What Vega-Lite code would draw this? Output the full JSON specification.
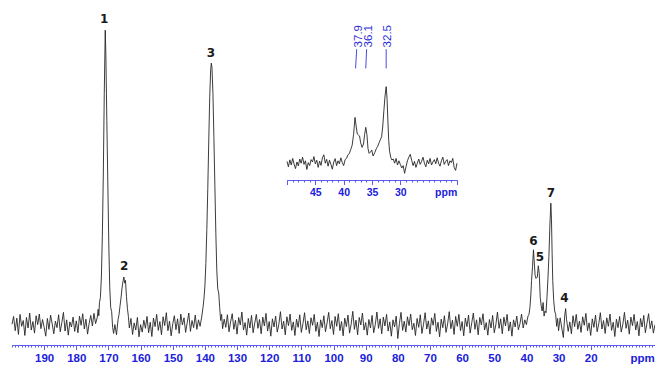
{
  "$schema": "https://vega.github.io/schema/vega-lite/v6.json",
  "width": 643,
  "height": 340,
  "autosize": {"type": "none"},
  "padding": {"left": 12, "top": 5, "right": 0, "bottom": 20},
  "background": "white",
  "config": {"view": {"stroke": null}, "axis": {"grid": false}},
  "datasets": {
    "main": [
      {"p":200,"v":6.1},{"p":199.5,"v":8.4},{"p":199,"v":4.2},{"p":198.5,"v":7.9},{"p":198,"v":3.1},{"p":197.5,"v":9.0},{"p":197,"v":5.5},{"p":196.5,"v":7.2},{"p":196,"v":2.8},{"p":195.5,"v":8.1},{"p":195,"v":5.0},{"p":194.5,"v":9.4},{"p":194,"v":4.4},{"p":193.5,"v":6.9},{"p":193,"v":3.5},{"p":192.5,"v":8.6},{"p":192,"v":6.0},{"p":191.5,"v":9.1},{"p":191,"v":4.8},{"p":190.5,"v":7.5},{"p":190,"v":5.2},{"p":189.5,"v":2.6},{"p":189,"v":7.8},{"p":188.5,"v":4.6},{"p":188,"v":8.8},{"p":187.5,"v":6.2},{"p":187,"v":3.3},{"p":186.5,"v":7.0},{"p":186,"v":5.1},{"p":185.5,"v":8.9},{"p":185,"v":3.9},{"p":184.5,"v":6.6},{"p":184,"v":9.6},{"p":183.5,"v":4.1},{"p":183,"v":7.4},{"p":182.5,"v":2.9},{"p":182,"v":6.8},{"p":181.5,"v":5.3},{"p":181,"v":8.2},{"p":180.5,"v":4.0},{"p":180,"v":7.1},{"p":179.5,"v":3.6},{"p":179,"v":8.5},{"p":178.5,"v":5.8},{"p":178,"v":9.2},{"p":177.5,"v":4.7},{"p":177,"v":7.6},{"p":176.5,"v":3.2},{"p":176,"v":6.4},{"p":175.5,"v":8.7},{"p":175,"v":5.6},{"p":174.5,"v":9.3},{"p":174,"v":6.3},{"p":173.5,"v":8.0},
      {"p":173.2,"v":10.5},{"p":173.0,"v":8.6},{"p":172.8,"v":12.4},{"p":172.5,"v":14.0},{"p":172.2,"v":20},{"p":171.9,"v":32},{"p":171.6,"v":50},{"p":171.3,"v":74},{"p":171.0,"v":92.6},{"p":170.8,"v":85},{"p":170.5,"v":66},{"p":170.2,"v":48},{"p":169.9,"v":30},{"p":169.6,"v":17},{"p":169.3,"v":11},{"p":169.0,"v":9.8},{"p":168.7,"v":5.2},{"p":168.4,"v":3.4},{"p":168.0,"v":6.0},{"p":167.5,"v":3.0},{"p":167.0,"v":7.6},
      {"p":166.7,"v":9.0},{"p":166.4,"v":11.5},{"p":166.1,"v":13.8},{"p":165.8,"v":16.5},{"p":165.5,"v":18.6},{"p":165.2,"v":20.0},{"p":164.95,"v":18.2},{"p":164.7,"v":19.0},{"p":164.4,"v":14.2},{"p":164.1,"v":10.8},{"p":163.8,"v":8.4},{"p":163.5,"v":5.0},{"p":163,"v":7.8},{"p":162.5,"v":3.1},{"p":162,"v":6.5},{"p":161.5,"v":4.4},{"p":161,"v":8.1},{"p":160.5,"v":2.4},{"p":160,"v":6.0},{"p":159.5,"v":3.8},{"p":159,"v":7.3},{"p":158.5,"v":4.9},{"p":158,"v":8.4},{"p":157.5,"v":3.6},{"p":157,"v":6.7},{"p":156.5,"v":2.5},{"p":156,"v":7.9},{"p":155.5,"v":5.4},{"p":155,"v":9.0},{"p":154.5,"v":4.3},{"p":154,"v":6.9},{"p":153.5,"v":3.0},{"p":153,"v":8.3},{"p":152.5,"v":5.7},{"p":152,"v":9.5},{"p":151.5,"v":4.2},{"p":151,"v":7.0},{"p":150.5,"v":2.7},{"p":150,"v":6.2},{"p":149.5,"v":8.6},{"p":149,"v":4.5},{"p":148.5,"v":7.7},{"p":148,"v":3.4},{"p":147.5,"v":9.1},{"p":147,"v":5.9},{"p":146.5,"v":8.0},{"p":146,"v":3.7},{"p":145.5,"v":6.6},{"p":145,"v":9.4},{"p":144.5,"v":4.0},{"p":144,"v":7.2},{"p":143.5,"v":5.1},{"p":143,"v":8.8},{"p":142.5,"v":4.6},{"p":142,"v":7.4},{"p":141.5,"v":5.5},{"p":141,"v":8.2},{"p":140.6,"v":11.0},
      {"p":140.3,"v":13.5},{"p":140.0,"v":17.4},{"p":139.7,"v":24},{"p":139.4,"v":34},{"p":139.1,"v":46},{"p":138.8,"v":60},{"p":138.5,"v":73},{"p":138.2,"v":81},{"p":138.0,"v":82.9},{"p":137.8,"v":81.5},{"p":137.5,"v":74},{"p":137.2,"v":61},{"p":136.9,"v":47},{"p":136.6,"v":33},{"p":136.3,"v":22},{"p":136.0,"v":16.5},{"p":135.7,"v":15.3},{"p":135.4,"v":11.0},{"p":135.1,"v":7.2},{"p":134.8,"v":9.0},{"p":134.5,"v":4.8},{"p":134,"v":7.6},{"p":133.5,"v":5.2},{"p":133,"v":8.9},{"p":132.5,"v":3.9},{"p":132,"v":6.8},
      {"p":131.5,"v":9.2},{"p":131,"v":4.6},{"p":130.5,"v":7.3},{"p":130,"v":3.2},{"p":129.5,"v":8.1},{"p":129,"v":5.9},{"p":128.5,"v":9.7},{"p":128,"v":4.4},{"p":127.5,"v":6.6},{"p":127,"v":2.9},{"p":126.5,"v":7.8},{"p":126,"v":5.0},{"p":125.5,"v":8.7},{"p":125,"v":3.6},{"p":124.5,"v":6.4},{"p":124,"v":9.0},{"p":123.5,"v":4.9},{"p":123,"v":7.5},{"p":122.5,"v":3.3},{"p":122,"v":8.2},{"p":121.5,"v":5.6},{"p":121,"v":9.3},{"p":120.5,"v":4.1},{"p":120,"v":6.9},{"p":119.5,"v":2.6},{"p":119,"v":7.7},{"p":118.5,"v":5.3},{"p":118,"v":8.5},{"p":117.5,"v":3.8},{"p":117,"v":6.1},{"p":116.5,"v":9.8},{"p":116,"v":4.7},{"p":115.5,"v":7.0},{"p":115,"v":3.0},{"p":114.5,"v":8.3},{"p":114,"v":5.7},{"p":113.5,"v":9.1},{"p":113,"v":4.3},{"p":112.5,"v":6.8},{"p":112,"v":2.8},{"p":111.5,"v":7.6},{"p":111,"v":5.2},{"p":110.5,"v":8.9},{"p":110,"v":3.7},{"p":109.5,"v":6.3},{"p":109,"v":9.5},{"p":108.5,"v":4.5},{"p":108,"v":7.1},{"p":107.5,"v":3.4},{"p":107,"v":8.0},{"p":106.5,"v":5.8},{"p":106,"v":9.0},{"p":105.5,"v":4.0},{"p":105,"v":6.7},{"p":104.5,"v":2.5},{"p":104,"v":7.4},{"p":103.5,"v":5.1},{"p":103,"v":8.6},{"p":102.5,"v":3.9},{"p":102,"v":6.5},{"p":101.5,"v":9.6},{"p":101,"v":4.8},{"p":100.5,"v":7.2},{"p":100,"v":3.1},{"p":99.5,"v":8.4},{"p":99,"v":5.5},{"p":98.5,"v":9.2},{"p":98,"v":4.2},{"p":97.5,"v":6.9},{"p":97,"v":2.7},{"p":96.5,"v":7.9},{"p":96,"v":5.4},{"p":95.5,"v":8.8},{"p":95,"v":3.5},{"p":94.5,"v":6.2},{"p":94,"v":9.9},{"p":93.5,"v":4.6},{"p":93,"v":7.3},{"p":92.5,"v":3.0},{"p":92,"v":8.1},{"p":91.5,"v":5.9},{"p":91,"v":9.4},{"p":90.5,"v":4.4},{"p":90,"v":6.6},{"p":89.5,"v":2.9},{"p":89,"v":7.5},{"p":88.5,"v":5.0},{"p":88,"v":8.7},{"p":87.5,"v":3.6},{"p":87,"v":6.0},{"p":86.5,"v":9.7},{"p":86,"v":4.9},{"p":85.5,"v":7.7},{"p":85,"v":3.3},{"p":84.5,"v":8.2},{"p":84,"v":5.6},{"p":83.5,"v":9.0},{"p":83,"v":4.1},{"p":82.5,"v":6.8},{"p":82,"v":2.6},{"p":81.5,"v":7.4},{"p":81,"v":5.3},{"p":80.5,"v":8.5},{"p":80,"v":1.9},{"p":79.5,"v":6.3},{"p":79,"v":9.6},{"p":78.5,"v":4.3},{"p":78,"v":7.0},{"p":77.5,"v":3.8},{"p":77,"v":8.3},{"p":76.5,"v":5.7},{"p":76,"v":9.1},{"p":75.5,"v":4.5},{"p":75,"v":6.4},{"p":74.5,"v":2.8},{"p":74,"v":7.8},{"p":73.5,"v":5.2},{"p":73,"v":8.9},{"p":72.5,"v":3.4},{"p":72,"v":6.1},{"p":71.5,"v":9.5},{"p":71,"v":4.7},{"p":70.5,"v":7.1},{"p":70,"v":3.2},{"p":69.5,"v":8.0},{"p":69,"v":5.8},{"p":68.5,"v":9.3},{"p":68,"v":4.0},{"p":67.5,"v":6.7},{"p":67,"v":2.4},{"p":66.5,"v":7.6},{"p":66,"v":5.1},{"p":65.5,"v":8.6},{"p":65,"v":3.7},{"p":64.5,"v":6.2},{"p":64,"v":9.8},{"p":63.5,"v":4.8},{"p":63,"v":7.3},{"p":62.5,"v":3.1},{"p":62,"v":8.4},{"p":61.5,"v":5.5},{"p":61,"v":9.0},{"p":60.5,"v":4.2},{"p":60,"v":6.9},{"p":59.5,"v":2.7},{"p":59,"v":7.9},{"p":58.5,"v":5.4},{"p":58,"v":8.8},{"p":57.5,"v":3.5},{"p":57,"v":6.5},{"p":56.5,"v":9.4},{"p":56,"v":4.6},{"p":55.5,"v":7.4},{"p":55,"v":3.0},{"p":54.5,"v":8.1},{"p":54,"v":5.9},{"p":53.5,"v":9.2},{"p":53,"v":4.4},{"p":52.5,"v":6.6},{"p":52,"v":2.9},{"p":51.5,"v":7.5},{"p":51,"v":5.0},{"p":50.5,"v":8.7},{"p":50,"v":3.6},{"p":49.5,"v":6.0},{"p":49,"v":9.7},{"p":48.5,"v":4.9},{"p":48,"v":7.7},{"p":47.5,"v":3.3},{"p":47,"v":8.2},{"p":46.5,"v":5.6},{"p":46,"v":9.0},{"p":45.5,"v":4.1},{"p":45,"v":6.8},{"p":44.5,"v":2.6},{"p":44,"v":7.4},{"p":43.5,"v":5.3},{"p":43,"v":8.5},{"p":42.5,"v":4.5},{"p":42,"v":6.3},{"p":41.5,"v":9.1},{"p":41,"v":5.0},{"p":40.5,"v":7.4},{"p":40,"v":6.0},{"p":39.5,"v":8.5},{"p":39.2,"v":9.0},
      {"p":38.9,"v":11},{"p":38.6,"v":15},{"p":38.4,"v":18.9},{"p":38.1,"v":23},{"p":37.8,"v":28.0},{"p":37.6,"v":25},{"p":37.3,"v":20.5},{"p":37.0,"v":19.6},{"p":36.6,"v":20},{"p":36.3,"v":23.3},{"p":36.0,"v":21.0},{"p":35.7,"v":14},{"p":35.4,"v":11.5},{"p":35.1,"v":10},{"p":34.8,"v":12.5},{"p":34.5,"v":8.5},{"p":34.2,"v":10},{"p":33.9,"v":9.5},{"p":33.6,"v":14},{"p":33.3,"v":19.5},{"p":33.0,"v":26},{"p":32.7,"v":35},{"p":32.4,"v":41.7},{"p":32.2,"v":37},{"p":32.0,"v":27},{"p":31.8,"v":18.9},{"p":31.5,"v":13},{"p":31.2,"v":10},{"p":30.9,"v":9},{"p":30.6,"v":5.5},{"p":30.3,"v":7.8},{"p":30.0,"v":4.2},{"p":29.5,"v":8.0},{"p":29.0,"v":5.0},{"p":28.5,"v":2.2},{"p":28.1,"v":8.5},{"p":27.8,"v":10.7},{"p":27.5,"v":7.4},{"p":27,"v":4.0},{"p":26.5,"v":6.8},{"p":26,"v":3.3},{"p":25.5,"v":8.6},{"p":25,"v":5.4},{"p":24.5,"v":9.0},{"p":24,"v":4.6},{"p":23.5,"v":7.0},{"p":23,"v":3.7},{"p":22.5,"v":8.3},{"p":22,"v":5.8},{"p":21.5,"v":9.3},{"p":21,"v":4.2},{"p":20.5,"v":6.5},{"p":20,"v":2.8},{"p":19.5,"v":7.7},{"p":19,"v":5.2},{"p":18.5,"v":8.8},{"p":18,"v":3.9},{"p":17.5,"v":6.2},{"p":17,"v":9.5},{"p":16.5,"v":4.7},{"p":16,"v":7.2},{"p":15.5,"v":3.4},{"p":15,"v":8.0},{"p":14.5,"v":5.5},{"p":14,"v":9.1},{"p":13.5,"v":4.3},{"p":13,"v":6.7},{"p":12.5,"v":2.5},{"p":12,"v":7.6},{"p":11.5,"v":5.1},{"p":11,"v":8.4},{"p":10.5,"v":3.8},{"p":10,"v":6.1},{"p":9.5,"v":9.6},{"p":9,"v":4.9},{"p":8.5,"v":7.3},{"p":8,"v":3.2},{"p":7.5,"v":8.2},{"p":7,"v":5.7},{"p":6.5,"v":9.0},{"p":6,"v":4.4},{"p":5.5,"v":6.9},{"p":5,"v":2.7},{"p":4.5,"v":7.8},{"p":4,"v":5.3},{"p":3.5,"v":8.7},{"p":3,"v":3.6},{"p":2.5,"v":6.4},{"p":2,"v":9.2},{"p":1.5,"v":4.8},{"p":1,"v":7.1},{"p":0.5,"v":3.5},{"p":0,"v":6.0}
    ],
    "inset": [
      {"p":50,"v":15.5},{"p":49.75,"v":11.0},{"p":49.5,"v":16.8},{"p":49.25,"v":12.5},{"p":49,"v":18.0},{"p":48.75,"v":13.2},{"p":48.5,"v":9.5},{"p":48.25,"v":15.0},{"p":48,"v":11.8},{"p":47.75,"v":17.5},{"p":47.5,"v":14.0},{"p":47.25,"v":19.0},{"p":47,"v":13.0},{"p":46.75,"v":16.0},{"p":46.5,"v":8.8},{"p":46.25,"v":14.5},{"p":46,"v":12.0},{"p":45.75,"v":17.0},{"p":45.5,"v":15.0},{"p":45.25,"v":19.5},{"p":45,"v":13.5},{"p":44.75,"v":16.5},{"p":44.5,"v":10.5},{"p":44.25,"v":15.8},{"p":44,"v":12.2},{"p":43.75,"v":18.5},{"p":43.5,"v":21.0},{"p":43.25,"v":14.0},{"p":43,"v":17.2},{"p":42.75,"v":11.5},{"p":42.5,"v":16.5},{"p":42.25,"v":13.0},{"p":42,"v":9.0},{"p":41.75,"v":15.0},{"p":41.5,"v":17.8},{"p":41.25,"v":12.0},{"p":41,"v":16.0},{"p":40.75,"v":13.5},{"p":40.5,"v":18.5},{"p":40.25,"v":14.5},{"p":40,"v":12.0},{"p":39.75,"v":17.0},{"p":39.5,"v":18.0},{"p":39.25,"v":21.0},{"p":39,"v":22.0},{"p":38.75,"v":25.5},{"p":38.5,"v":29.0},{"p":38.25,"v":38.0},{"p":38.0,"v":52.2},{"p":37.8,"v":45.0},{"p":37.6,"v":38.3},{"p":37.4,"v":37.5},{"p":37.2,"v":36.7},{"p":37.0,"v":31.0},{"p":36.75,"v":27.2},{"p":36.5,"v":30.0},{"p":36.3,"v":38.0},{"p":36.1,"v":43.9},{"p":35.9,"v":38.0},{"p":35.7,"v":26.0},{"p":35.5,"v":22.2},{"p":35.25,"v":23.5},{"p":35.05,"v":25.0},{"p":34.8,"v":20.0},{"p":34.5,"v":23.0},{"p":34.25,"v":26.0},{"p":34.0,"v":28.0},{"p":33.75,"v":31.0},{"p":33.5,"v":34.0},{"p":33.3,"v":36.0},{"p":33.1,"v":45.0},{"p":32.9,"v":58.0},{"p":32.7,"v":70.0},{"p":32.5,"v":77.8},{"p":32.35,"v":68.0},{"p":32.2,"v":50.0},{"p":32.05,"v":33.0},{"p":31.9,"v":24.0},{"p":31.7,"v":19.0},{"p":31.5,"v":16.7},{"p":31.25,"v":17.5},{"p":31,"v":14.0},{"p":30.75,"v":18.0},{"p":30.5,"v":12.5},{"p":30.25,"v":16.0},{"p":30,"v":13.0},{"p":29.75,"v":10.0},{"p":29.5,"v":12.0},{"p":29.25,"v":5.6},{"p":29,"v":11.0},{"p":28.75,"v":16.0},{"p":28.5,"v":19.0},{"p":28.25,"v":21.4},{"p":28,"v":16.5},{"p":27.75,"v":12.0},{"p":27.5,"v":15.5},{"p":27.25,"v":10.5},{"p":27,"v":14.0},{"p":26.75,"v":17.5},{"p":26.5,"v":13.0},{"p":26.25,"v":15.5},{"p":26,"v":19.0},{"p":25.75,"v":14.0},{"p":25.5,"v":11.0},{"p":25.25,"v":16.5},{"p":25,"v":13.5},{"p":24.75,"v":18.0},{"p":24.5,"v":12.5},{"p":24.25,"v":15.0},{"p":24,"v":17.0},{"p":23.75,"v":13.5},{"p":23.5,"v":18.5},{"p":23.25,"v":14.0},{"p":23,"v":11.5},{"p":22.75,"v":16.0},{"p":22.5,"v":19.0},{"p":22.25,"v":13.0},{"p":22,"v":15.5},{"p":21.75,"v":17.0},{"p":21.5,"v":12.0},{"p":21.25,"v":16.0},{"p":21,"v":14.5},{"p":20.75,"v":18.0},{"p":20.5,"v":10.5},{"p":20.25,"v":8.0},{"p":20,"v":14.0}
    ],
    "labels": [
      {"p":171.3,"v":95.8,"t":"1"},{"p":165.1,"v":23.3,"t":"2"},{"p":138.1,"v":85.8,"t":"3"},{"p":28.2,"v":13.7,"t":"4"},{"p":35.8,"v":26.0,"t":"5"},{"p":37.85,"v":30.7,"t":"6"},{"p":32.4,"v":44.8,"t":"7"}
    ],
    "marks": [
      {"pk":37.9,"lx":37.7,"t":"37.9"},{"pk":36.1,"lx":35.95,"t":"36.1"},{"pk":32.5,"lx":32.5,"t":"32.5"}
    ]
  },
  "resolve": {
    "scale": {"x": "independent", "y": "independent"},
    "axis": {"x": "independent", "y": "independent"}
  },
  "layer": [
    {
      "data": {"name": "main"},
      "mark": {"type": "line", "color": "#262626", "strokeWidth": 0.9},
      "encoding": {
        "x": {"field": "p", "type": "quantitative",
          "scale": {"domain": [0, 200], "reverse": true, "nice": false, "zero": false},
          "axis": {"orient": "bottom", "title": null, "values": [190,180,170,160,150,140,130,120,110,100,90,80,70,60,50,40,30,20,4],
            "labelExpr": "datum.value == 4 ? 'ppm' : datum.label",
            "tickOpacity": {"condition": {"test": "datum.value == 4", "value": 0}, "value": 1},
            "domainColor": "#5b5bf0", "tickColor": "#5b5bf0", "tickSize": 4.5, "domainWidth": 1,
            "labelColor": "#2020dc", "labelFont": "Liberation Sans", "labelFontWeight": "bold", "labelFontSize": 11.5,
            "labelPadding": 3, "labelFlush": false, "labelOverlap": false}},
        "y": {"field": "v", "type": "quantitative", "scale": {"domain": [0, 100], "nice": false, "zero": false}, "axis": null}
      }
    },
    {
      "data": {"name": "labels"},
      "mark": {"type": "text", "font": "DejaVu Sans", "fontWeight": "bold", "fontSize": 12, "color": "#1a1a1a", "baseline": "middle", "align": "center"},
      "encoding": {
        "x": {"field": "p", "type": "quantitative",
          "scale": {"domain": [0, 200], "reverse": true, "nice": false, "zero": false},
          "axis": {"orient": "bottom", "title": null, "tickCount": 200, "labels": false, "domain": false, "tickSize": 2, "tickColor": "#5b5bf0"}},
        "y": {"field": "v", "type": "quantitative", "scale": {"domain": [0, 100], "nice": false, "zero": false}, "axis": null},
        "text": {"field": "t"}
      }
    },
    {
      "data": {"name": "inset"},
      "mark": {"type": "line", "color": "#262626", "strokeWidth": 0.9},
      "encoding": {
        "x": {"field": "p", "type": "quantitative",
          "scale": {"domain": [20, 50], "reverse": true, "nice": false, "zero": false, "range": [275, 445]},
          "axis": {"orient": "bottom", "offset": -165, "title": null, "values": [50,45,40,35,30,22,20],
            "labelExpr": "datum.value == 22 ? 'ppm' : ((datum.value == 50 || datum.value == 20) ? '' : datum.label)",
            "tickOpacity": {"condition": {"test": "datum.value == 22", "value": 0}, "value": 1},
            "domainColor": "#5b5bf0", "tickColor": "#5b5bf0", "tickSize": 4.5, "domainWidth": 1,
            "labelColor": "#2020dc", "labelFont": "Liberation Sans", "labelFontWeight": "bold", "labelFontSize": 10.5,
            "labelPadding": 3, "labelFlush": false, "labelOverlap": false}},
        "y": {"field": "v", "type": "quantitative", "scale": {"domain": [0, 150], "nice": false, "zero": false, "range": [175, -5]}, "axis": null}
      }
    },
    {
      "data": {"name": "marks"},
      "mark": {"type": "rule", "color": "#4a4ae6", "strokeWidth": 1},
      "encoding": {
        "x": {"field": "pk", "type": "quantitative",
          "scale": {"domain": [20, 50], "reverse": true, "nice": false, "zero": false, "range": [275, 445]}, "axis": null},
        "x2": {"field": "lx"},
        "y": {"datum": 93, "type": "quantitative", "scale": {"domain": [0, 150], "nice": false, "zero": false, "range": [175, -5]}, "axis": null},
        "y2": {"datum": 109}
      }
    },
    {
      "data": {"name": "marks"},
      "mark": {"type": "text", "font": "Liberation Sans", "fontSize": 11.5, "color": "#3030d8", "angle": 270, "align": "left", "baseline": "middle", "dy": 2},
      "encoding": {
        "x": {"field": "lx", "type": "quantitative",
          "scale": {"domain": [20, 50], "reverse": true, "nice": false, "zero": false, "range": [275, 445]},
          "axis": {"orient": "bottom", "offset": -165, "title": null, "tickCount": 30, "labels": false, "domain": false, "tickSize": 2, "tickColor": "#5b5bf0"}},
        "y": {"datum": 110.5, "type": "quantitative", "scale": {"domain": [0, 150], "nice": false, "zero": false, "range": [175, -5]}, "axis": null},
        "text": {"field": "t"}
      }
    }
  ]
}
